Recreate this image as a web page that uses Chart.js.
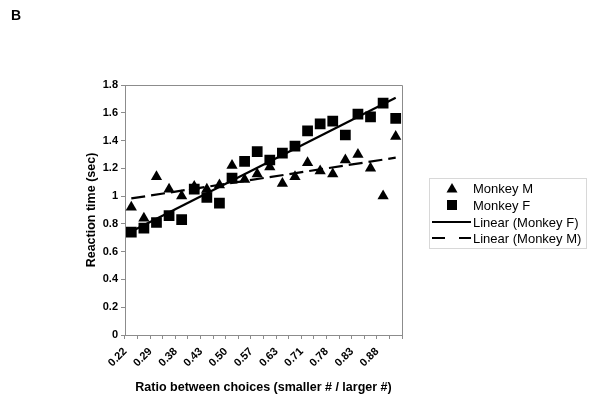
<!DOCTYPE html>
<html>
<head>
<meta charset="utf-8">
<script src="https://cdn.jsdelivr.net/npm/chart.js@4/dist/chart.umd.min.js"></script>
<style>
  html, body { margin: 0; padding: 0; background: #fff; }
  #wrap { position: relative; width: 600px; height: 408px; }
</style>
</head>
<body>
<div id="wrap"><canvas id="myChart" width="600" height="408"></canvas></div>
<script>
// categories on the x axis (only every other one is labelled in the figure)
var ratios = ['0.22', '0.25', '0.29', '0.33', '0.38', '0.40', '0.43', '0.45', '0.50', '0.53', '0.57',
              '0.60', '0.63', '0.67', '0.71', '0.75', '0.78', '0.80', '0.83', '0.86', '0.88', '0.90'];

// reaction times (sec)
var monkeyM = [0.92, 0.84, 1.14, 1.05, 1.00, 1.07, 1.05, 1.08, 1.22, 1.12, 1.16,
               1.21, 1.09, 1.14, 1.24, 1.18, 1.16, 1.26, 1.30, 1.20, 1.00, 1.43];
var monkeyF = [0.74, 0.77, 0.81, 0.86, 0.83, 1.05, 0.99, 0.95, 1.13, 1.25, 1.32,
               1.26, 1.31, 1.36, 1.47, 1.52, 1.54, 1.44, 1.59, 1.57, 1.67, 1.56];

var yTicks = [0, 0.2, 0.4, 0.6, 0.8, 1, 1.2, 1.4, 1.6, 1.8];

var fontName = '"Liberation Sans", Arial, sans-serif';

/**
 * least squares line over category index 1..n, like an Excel linear trendline
 * return the two end points
 */
function trendLine(values){
  var n = values.length, sx = 0, sy = 0, sxx = 0, sxy = 0;
  values.forEach((v, i)=>{
    var x = i + 1;
    sx += x; sy += v; sxx += x * x; sxy += x * v;
  });
  var slope = (n * sxy - sx * sy) / (n * sxx - sx * sx);
  var icpt = (sy - slope * sx) / n;
  return [
    {x: ratios[0], y: icpt + slope},
    {x: ratios[n - 1], y: icpt + slope * n}
  ];
}

// frame on top / right of the plot and the legend box
var extras = {
  id: 'extras',
  afterDraw(chart){
    var ctx = chart.ctx, a = chart.chartArea;
    ctx.save();
    ctx.strokeStyle = '#8c8c8c';
    ctx.lineWidth = 1;
    ctx.beginPath();
    ctx.moveTo(a.left, a.top + 0.5);
    ctx.lineTo(a.right + 0.5, a.top + 0.5);
    ctx.lineTo(a.right + 0.5, a.bottom);
    ctx.stroke();

    // "B" panel letter
    ctx.fillStyle = '#000';
    ctx.font = 'bold 14px ' + fontName;
    ctx.textBaseline = 'middle';
    ctx.fillText('B', 11, 16);

    // legend
    var lx = 429, ly = 178, lw = 157, lh = 70;
    ctx.strokeStyle = '#d8d8d8';
    ctx.strokeRect(lx + 0.5, ly + 0.5, lw, lh);
    var rows = [188, 205, 222, 238];
    var names = ['Monkey M', 'Monkey F', 'Linear (Monkey F)', 'Linear (Monkey M)'];
    ctx.fillStyle = '#000';
    // triangle
    ctx.beginPath();
    ctx.moveTo(452, rows[0] - 5);
    ctx.lineTo(457.5, rows[0] + 4.5);
    ctx.lineTo(446.5, rows[0] + 4.5);
    ctx.closePath();
    ctx.fill();
    // square
    ctx.fillRect(447, rows[1] - 5, 10, 10);
    // lines
    ctx.strokeStyle = '#000';
    ctx.lineWidth = 2;
    ctx.beginPath();
    ctx.moveTo(432, rows[2]);
    ctx.lineTo(471, rows[2]);
    ctx.stroke();
    ctx.beginPath();
    ctx.moveTo(432, rows[3]);
    ctx.lineTo(445, rows[3]);
    ctx.moveTo(459, rows[3]);
    ctx.lineTo(471, rows[3]);
    ctx.stroke();
    ctx.font = '13px ' + fontName;
    names.forEach((t, i)=>{ ctx.fillText(t, 473, rows[i] + 1); });
    ctx.restore();
  }
};

function drawChart(){
  var element = document.getElementById('myChart').getContext('2d');
  var myChart = new Chart(element, {
    type: 'line',
    data: {
      labels: ratios,
      datasets: [
        {
          label: 'Linear (Monkey F)',
          data: trendLine(monkeyF),
          borderColor: '#000',
          borderWidth: 2.2,
          pointRadius: 0,
          fill: false,
          order: 0
        },
        {
          label: 'Linear (Monkey M)',
          data: trendLine(monkeyM),
          borderColor: '#000',
          borderWidth: 2.2,
          borderDash: [14, 6],
          pointRadius: 0,
          fill: false,
          order: 1
        },
        {
          label: 'Monkey F',
          data: monkeyF,
          showLine: false,
          pointStyle: 'rect',
          pointRadius: 7.6,
          pointBackgroundColor: '#000',
          pointBorderColor: '#000',
          pointBorderWidth: 0,
          order: 2
        },
        {
          label: 'Monkey M',
          data: monkeyM,
          showLine: false,
          pointStyle: 'triangle',
          pointRadius: 6.5,
          pointBackgroundColor: '#000',
          pointBorderColor: '#000',
          pointBorderWidth: 0,
          order: 3
        }
      ]
    },
    options: {
      responsive: false,
      animation: false,
      events: [],
      layout: { padding: { left: 80, right: 198, top: 85, bottom: 9 } },
      plugins: {
        legend: { display: false },
        tooltip: { enabled: false }
      },
      scales: {
        x: {
          type: 'category',
          offset: true,
          grid: {
            offset: true,
            drawOnChartArea: false,
            drawTicks: true,
            tickLength: 4,
            color: '#8c8c8c'
          },
          border: { color: '#8c8c8c' },
          ticks: {
            autoSkip: false,
            minRotation: 45,
            maxRotation: 45,
            padding: 6,
            labelOffset: -6,
            color: '#000',
            font: { family: fontName, size: 11, weight: 'bold' },
            callback: function(v, i){ return i % 2 === 0 ? ratios[i] : ''; }
          },
          title: {
            display: true,
            text: 'Ratio between choices (smaller # / larger #)',
            color: '#000',
            font: { family: fontName, size: 12.5, weight: 'bold' }
          },
          afterFit: function(s){ s.height = 64; }
        },
        y: {
          min: yTicks[0],
          max: yTicks[yTicks.length - 1],
          afterBuildTicks: function(s){ s.ticks = yTicks.map((v)=>({value: v})); },
          grid: {
            drawOnChartArea: false,
            drawTicks: true,
            tickLength: 4,
            color: '#8c8c8c'
          },
          border: { color: '#8c8c8c' },
          ticks: {
            color: '#000',
            padding: 3,
            font: { family: fontName, size: 11, weight: 'bold' },
            callback: function(v){ return String(v); }
          },
          title: {
            display: true,
            text: 'Reaction time (sec)',
            color: '#000',
            font: { family: fontName, size: 12.5, weight: 'bold' }
          },
          afterFit: function(s){ s.width = 45; }
        }
      }
    },
    plugins: [extras]
  });
}

drawChart();
</script>
</body>
</html>
